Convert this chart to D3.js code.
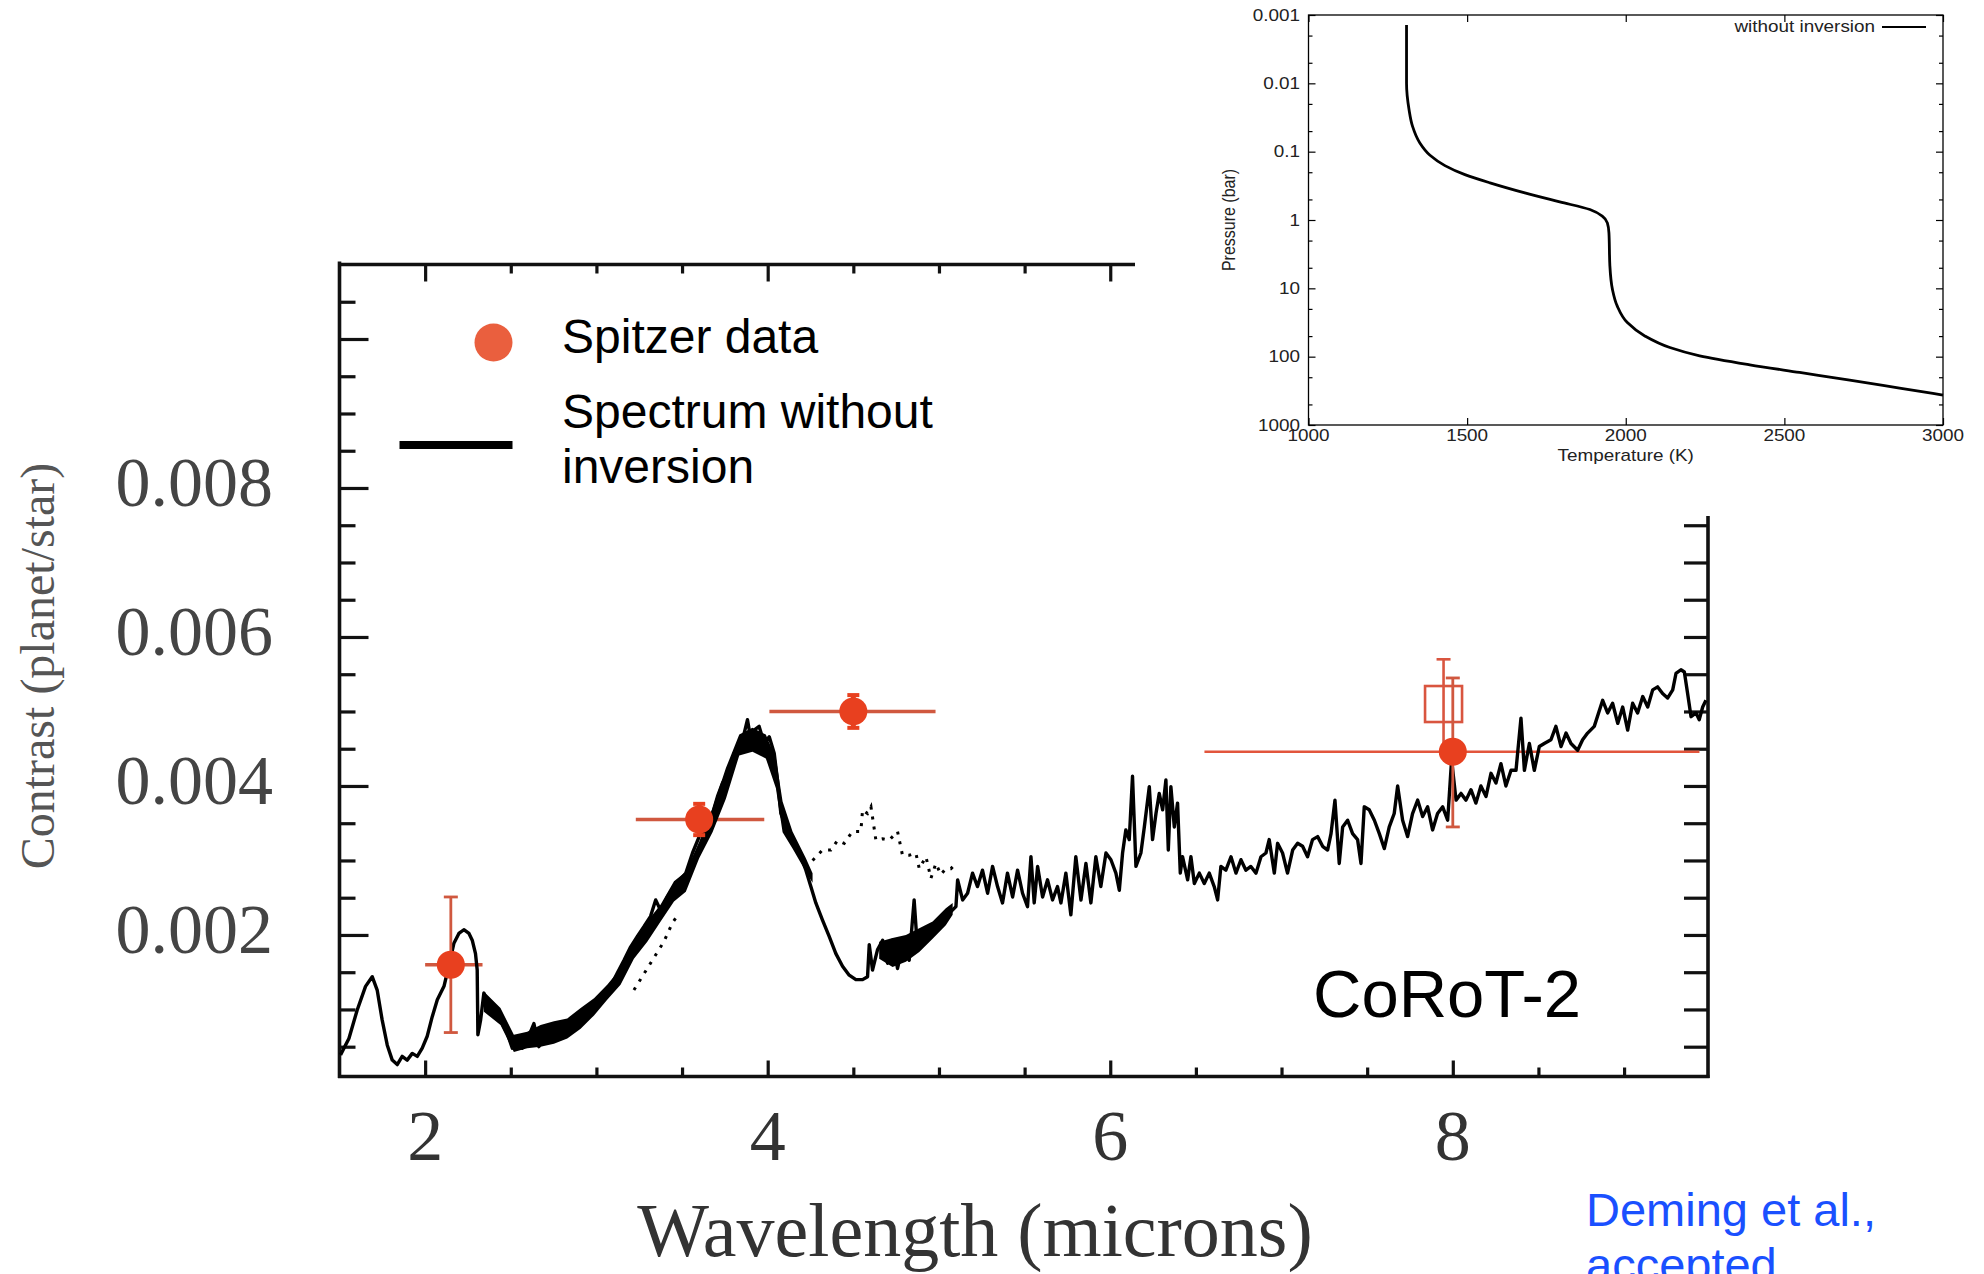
<!DOCTYPE html>
<html><head><meta charset="utf-8">
<script src="https://cdn.jsdelivr.net/npm/d3@7"></script>
<style>body{margin:0;background:#fff}</style>
</head><body>
<svg id="c" width="1984" height="1274"></svg>
<script>
// ---------------- DATA ----------------
// Model spectrum without inversion (wavelength in microns, contrast planet/star)
const specWl = [1.506,1.555,1.603,1.652,1.691,1.720,1.749,1.779,1.808,1.837,1.866,1.895,1.925,1.954,1.983,2.012,2.041,2.071,2.110,2.140,
2.168,2.197,2.226,2.256,2.275,2.294,2.304,2.308,2.324,2.343,2.363,2.392,2.421,2.450,2.479,2.509,2.538,2.567,2.596,2.635,
2.664,2.693,2.732,2.771,2.810,2.849,2.888,2.927,2.966,3.005,3.044,3.083,3.122,3.161,3.200,3.239,3.277,3.316,3.346,3.375,
3.414,3.453,3.492,3.522,3.561,3.600,3.639,3.678,3.707,3.736,3.775,3.804,3.834,3.863,3.882,3.902,3.921,3.950,3.980,4.009,
4.038,4.057,4.077,4.106,4.135,4.164,4.194,4.223,4.252,4.281,4.320,4.359,4.398,4.437,4.476,4.515,4.554,4.583,4.593,4.612,
4.641,4.671,4.700,4.729,4.758,4.787,4.826,4.855,4.875,4.904,4.943,4.982,5.021,5.060,5.099,5.109,5.138,5.167,5.196,5.225,
5.254,5.284,5.313,5.342,5.371,5.400,5.430,5.459,5.488,5.517,5.537,5.556,5.576,5.605,5.634,5.663,5.692,5.712,5.741,5.770,
5.799,5.829,5.858,5.887,5.916,5.945,5.975,6.004,6.033,6.053,6.072,6.091,6.111,6.130,6.150,6.179,6.199,6.228,6.247,6.267,
6.286,6.306,6.325,6.339,6.354,6.374,6.393,6.409,6.422,6.452,6.471,6.491,6.520,6.549,6.578,6.607,6.627,6.646,6.675,6.705,
6.734,6.763,6.792,6.821,6.851,6.880,6.909,6.928,6.958,6.977,7.006,7.035,7.065,7.094,7.123,7.152,7.181,7.211,7.240,7.269,
7.289,7.312,7.337,7.357,7.386,7.415,7.444,7.464,7.483,7.512,7.542,7.571,7.600,7.629,7.658,7.678,7.707,7.736,7.765,7.795,
7.824,7.853,7.882,7.911,7.941,7.970,7.993,8.019,8.048,8.077,8.106,8.135,8.164,8.194,8.223,8.252,8.281,8.310,8.340,8.369,
8.398,8.418,8.447,8.476,8.505,8.534,8.573,8.602,8.632,8.661,8.690,8.729,8.758,8.787,8.826,8.875,8.904,8.933,8.963,8.992,
9.021,9.050,9.079,9.109,9.138,9.167,9.196,9.225,9.254,9.284,9.303,9.332,9.352,9.371,9.391,9.420,9.439,9.459,9.478];
const specContrast = [0.00039,0.00061,0.00099,0.00131,0.00144,0.00126,0.00086,0.00052,0.00032,0.00026,0.00037,0.00032,0.00041,0.00037,0.00048,0.00064,0.00090,0.00113,0.00131,0.00160,
0.00189,0.00202,0.00207,0.00202,0.00193,0.00175,0.00153,0.00066,0.00086,0.00122,0.00108,0.00099,0.00095,0.00081,0.00068,0.00048,0.00052,0.00048,0.00059,0.00081,
0.00050,0.00061,0.00072,0.00077,0.00068,0.00072,0.00086,0.00097,0.00104,0.00113,0.00122,0.00131,0.00149,0.00166,0.00184,0.00198,0.00211,0.00225,0.00247,0.00233,
0.00251,0.00265,0.00275,0.00283,0.00310,0.00332,0.00345,0.00363,0.00386,0.00404,0.00417,0.00444,0.00453,0.00471,0.00489,0.00462,0.00475,0.00480,0.00457,0.00466,
0.00444,0.00408,0.00363,0.00345,0.00332,0.00319,0.00305,0.00287,0.00265,0.00243,0.00220,0.00198,0.00175,0.00158,0.00146,0.00140,0.00140,0.00144,0.00187,0.00153,
0.00180,0.00193,0.00162,0.00193,0.00155,0.00184,0.00166,0.00247,0.00180,0.00193,0.00202,0.00211,0.00220,0.00229,0.00238,0.00274,0.00247,0.00256,0.00283,0.00265,
0.00287,0.00256,0.00292,0.00265,0.00243,0.00283,0.00251,0.00287,0.00256,0.00238,0.00305,0.00243,0.00292,0.00251,0.00274,0.00247,0.00265,0.00243,0.00283,0.00227,
0.00305,0.00247,0.00296,0.00243,0.00305,0.00265,0.00310,0.00301,0.00283,0.00260,0.00310,0.00341,0.00328,0.00413,0.00292,0.00310,0.00345,0.00399,0.00328,0.00363,
0.00390,0.00368,0.00408,0.00314,0.00399,0.00345,0.00377,0.00283,0.00305,0.00274,0.00305,0.00269,0.00283,0.00269,0.00283,0.00265,0.00247,0.00292,0.00287,0.00305,
0.00283,0.00301,0.00287,0.00292,0.00283,0.00305,0.00310,0.00328,0.00283,0.00323,0.00310,0.00283,0.00314,0.00323,0.00319,0.00305,0.00328,0.00332,0.00319,0.00314,
0.00336,0.00381,0.00296,0.00345,0.00354,0.00336,0.00328,0.00296,0.00372,0.00368,0.00354,0.00336,0.00316,0.00345,0.00363,0.00400,0.00354,0.00332,0.00363,0.00381,
0.00359,0.00372,0.00341,0.00363,0.00372,0.00354,0.00435,0.00381,0.00390,0.00381,0.00395,0.00377,0.00400,0.00386,0.00417,0.00404,0.00430,0.00400,0.00421,0.00421,
0.00491,0.00421,0.00457,0.00421,0.00453,0.00457,0.00462,0.00480,0.00453,0.00471,0.00457,0.00448,0.00462,0.00471,0.00480,0.00515,0.00498,0.00511,0.00484,0.00506,
0.00475,0.00511,0.00498,0.00520,0.00506,0.00529,0.00533,0.00524,0.00518,0.00529,0.00551,0.00556,0.00553,0.00524,0.00493,0.00498,0.00489,0.00506,0.00515];

// Envelope of the densely sampled (thick) parts of the model spectrum
const band1Wl  = [2.343,2.440,2.518,2.596,2.674,2.752,2.830,2.908,2.986,3.063,3.141,3.219,3.297,3.375,3.453,3.522,3.600,3.678,3.756,3.834,3.911,3.989,4.048,4.087,4.145,4.223,4.262];
const band1Low = [0.00097,0.00079,0.00043,0.00048,0.00050,0.00054,0.00061,0.00074,0.00092,0.00113,0.00133,0.00168,0.00191,0.00218,0.00245,0.00258,0.00303,0.00338,0.00383,0.00441,0.00446,0.00437,0.00397,0.00338,0.00316,0.00285,0.00270];
const band1High= [0.00124,0.00102,0.00066,0.00070,0.00079,0.00084,0.00088,0.00102,0.00115,0.00133,0.00155,0.00191,0.00218,0.00241,0.00272,0.00285,0.00325,0.00370,0.00424,0.00469,0.00478,0.00469,0.00437,0.00379,0.00339,0.00303,0.00283];
const band2Wl  = [4.651,4.729,4.807,4.885,4.963,5.040,5.080];
const band2Low = [0.00168,0.00157,0.00164,0.00177,0.00195,0.00213,0.00227];
const band2High= [0.00191,0.00196,0.00200,0.00209,0.00218,0.00236,0.00243];

// Second (dotted) model where it departs from the solid one
const dotAWl = [3.219,3.394,3.443,3.483];
const dotAContrast = [0.00126,0.00191,0.00216,0.00229];
const dotBWl = [4.262,4.320,4.369,4.408,4.447,4.495,4.544,4.554,4.583,4.603,4.632,4.671,4.709,4.758,4.787,4.826,4.865,4.885,4.924,4.953,4.982,5.011,5.040,5.070,5.099];
const dotBContrast = [0.00300,0.00314,0.00314,0.00327,0.00323,0.00339,0.00339,0.00368,0.00363,0.00372,0.00327,0.00329,0.00327,0.00339,0.00307,0.00307,0.00310,0.00289,0.00305,0.00276,0.00296,0.00281,0.00289,0.00289,0.00296];

// Spitzer data (and ground-based 2.15 micron point)
const ptWl      = [2.15, 3.6, 4.5, 8.0];
const ptContrast= [0.0016, 0.00355, 0.0050, 0.00446];
const ptErrLow  = [0.00069, 0.00334, 0.00478, 0.00345];
const ptErrHigh = [0.00251, 0.00376, 0.00522, 0.00545];
const ptWlMin   = [2.00, 3.23, 4.01, 6.55];
const ptWlMax   = [2.335, 3.98, 4.98, 9.44];
// Open square at 8 microns
const sqWl = [7.946], sqContrast = [0.0051], sqErrLow = [0.0045], sqErrHigh = [0.0057];

// Axis ticks
const xTickLabels = [2, 4, 6, 8];
const yTickLabels = [0.002, 0.004, 0.006, 0.008];

// Inset: temperature-pressure profile without inversion
const insetT = [1309,1309,1309,1317,1328,1351,1383,1430,1493,1572,1682,1792,1887,1926,1942,1947,1950,1958,1973,2005,2060,2139,2233,2391,2548,2706,2863,3000];
const insetP = [0.0014,0.005,0.01,0.0244,0.0427,0.0746,0.113,0.160,0.217,0.286,0.401,0.543,0.703,0.879,1.099,1.54,4.72,10.35,18.1,31.7,49.7,73.5,97.3,131.5,170.2,220.3,288.4,364.8];
const insetTTicks = [1000,1500,2000,2500,3000];
const insetPTicks = [0.001,0.01,0.1,1,10,100,1000];
const insetPTickLabels = ["0.001","0.01","0.1","1","10","100","1000"];

// ---------------- DRAW ----------------
const svg = d3.select("#c");
svg.append("rect").attr("width",1984).attr("height",1274).attr("fill","#fff");

const x = d3.scaleLinear().domain([1.5, 9.49]).range([339.5, 1708]);
const y = d3.scaleLinear().domain([0.0001, 0.011]).range([1076.5, 264.5]);
const X0 = x(1.5), X1 = x(9.49), Y0 = y(0.0001), Y1 = y(0.011);
const topEnd = 1135, rightStart = 516;

const serif = "'Liberation Serif','Times New Roman',serif";
const sans = "'Liberation Sans',Arial,Helvetica,sans-serif";

function styleTicks(g, isMajor, majLen, minLen, dir) {
  g.select(".domain").remove();
  g.selectAll(".tick text").remove();
  g.selectAll(".tick line").attr("stroke","#111").attr("stroke-width",3.2)
   .each(function(d){
     const L = isMajor(d) ? majLen : minLen;
     const s = d3.select(this);
     if (dir==="v") s.attr("y2", L); else s.attr("x2", L);
   });
}
const isEven = d => Math.abs(d/2 - Math.round(d/2)) < 1e-6;
const isY2 = d => Math.abs(d/0.002 - Math.round(d/0.002)) < 1e-6;

// bottom ticks
svg.append("g").attr("transform",`translate(0,${Y0})`)
  .call(d3.axisBottom(x).tickValues(d3.range(2, 9.01, 0.5)))
  .call(g=>styleTicks(g, isEven, -16, -9, "v"));
// top ticks
svg.append("g").attr("transform",`translate(0,${Y1})`)
  .call(d3.axisTop(x).tickValues(d3.range(2, 6.01, 0.5)))
  .call(g=>styleTicks(g, isEven, 17, 9, "v"));
// left ticks
svg.append("g").attr("transform",`translate(${X0},0)`)
  .call(d3.axisLeft(y).tickValues(d3.range(1,22).map(k=>k*0.0005)))
  .call(g=>styleTicks(g, isY2, 29, 16, "h"));
// right ticks
svg.append("g").attr("transform",`translate(${X1},0)`)
  .call(d3.axisRight(y).tickValues(d3.range(1,16).map(k=>k*0.0005)))
  .call(g=>styleTicks(g, ()=>false, -24, -24, "h"));

// frame
const frame = svg.append("g").attr("stroke","#111").attr("stroke-width",3.6).attr("fill","none");
frame.append("line").attr("x1",X0).attr("x2",X0).attr("y1",Y1-3).attr("y2",Y0+1.5);
frame.append("line").attr("x1",X0-1.5).attr("x2",X1+1.5).attr("y1",Y0).attr("y2",Y0);
frame.append("line").attr("x1",X0-1.5).attr("x2",topEnd).attr("y1",Y1).attr("y2",Y1);
frame.append("line").attr("x1",X1).attr("x2",X1).attr("y1",rightStart).attr("y2",Y0+1.5);

// tick labels
svg.append("g").selectAll("text").data(xTickLabels).join("text")
  .attr("x", d=>x(d)).attr("y", 1160).attr("text-anchor","middle")
  .attr("font-family",serif).attr("font-size",72).attr("fill","#333").text(d=>d);
svg.append("g").selectAll("text").data(yTickLabels).join("text")
  .attr("x", 273).attr("y", d=>y(d)+18.5).attr("text-anchor","end")
  .attr("font-family",serif).attr("font-size",70).attr("fill","#444").text(d=>d3.format(".3f")(d));

// axis titles
svg.append("text").attr("x",975).attr("y",1256).attr("text-anchor","middle")
  .attr("font-family",serif).attr("font-size",76).attr("fill","#333").text("Wavelength (microns)");
svg.append("text").attr("transform","translate(54,666) rotate(-90)").attr("text-anchor","middle")
  .attr("font-family",serif).attr("font-size",48).attr("fill","#555").text("Contrast (planet/star)");

// error bars (horizontal bandwidths)
const red = "#e8401f", barRed = "#d0583f";
const eb = svg.append("g");
ptWl.forEach((w,i)=>{
  eb.append("line").attr("x1",x(ptWlMin[i])).attr("x2",x(ptWlMax[i]))
    .attr("y1",y(ptContrast[i])).attr("y2",y(ptContrast[i]))
    .attr("stroke", i===3 ? "#e2553c" : barRed).attr("stroke-width", i===3 ? 2.6 : 3.4);
});
// open square and its error bar
sqWl.forEach((w,i)=>{
  const cx=x(w), cy=y(sqContrast[i]);
  eb.append("line").attr("x1",cx).attr("x2",cx).attr("y1",y(sqErrHigh[i])).attr("y2",y(sqErrLow[i]))
    .attr("stroke","#d9553f").attr("stroke-width",2.6);
  eb.append("line").attr("x1",cx-7).attr("x2",cx+7).attr("y1",y(sqErrHigh[i])).attr("y2",y(sqErrHigh[i]))
    .attr("stroke","#d9553f").attr("stroke-width",2.6);
  eb.append("rect").attr("x",cx-18.5).attr("y",cy-18).attr("width",37).attr("height",36)
    .attr("fill","none").attr("stroke","#d9553f").attr("stroke-width",2.6);
});

// model spectrum: thick envelope bands
const area = d3.area().x(d=>x(d[0])).y0(d=>y(d[1])).y1(d=>y(d[2]));
svg.append("path").datum(band1Wl.map((w,i)=>[w,band1Low[i],band1High[i]])).attr("d",area).attr("fill","#000");
svg.append("path").datum(band2Wl.map((w,i)=>[w,band2Low[i],band2High[i]])).attr("d",area).attr("fill","#000");

const line = d3.line().x(d=>x(d[0])).y(d=>y(d[1]));
svg.append("path").datum(specWl.map((w,i)=>[w,specContrast[i]]))
  .attr("d",line).attr("fill","none").attr("stroke","#000").attr("stroke-width",3.4).attr("stroke-linejoin","round");

// dotted model
[[dotAWl,dotAContrast],[dotBWl,dotBContrast]].forEach(([w,c])=>{
  svg.append("path").datum(w.map((v,i)=>[v,c[i]])).attr("d",line)
    .attr("fill","none").attr("stroke","#000").attr("stroke-width",3).attr("stroke-dasharray","3,7");
});

// vertical error bars + markers
const mk = svg.append("g");
ptWl.forEach((w,i)=>{
  const cx=x(w);
  const thin = (i===0 || i===3);
  mk.append("line").attr("x1",cx).attr("x2",cx).attr("y1",y(ptErrHigh[i])).attr("y2",y(ptErrLow[i]))
    .attr("stroke", thin ? barRed : red).attr("stroke-width", thin ? 2.8 : 5);
  [ptErrHigh[i], ptErrLow[i]].forEach(v=>{
    mk.append("line").attr("x1",cx-(thin?7:6)).attr("x2",cx+(thin?7:6)).attr("y1",y(v)).attr("y2",y(v))
      .attr("stroke", thin ? barRed : red).attr("stroke-width", thin ? 2.8 : 4);
  });
});
mk.selectAll("circle").data(ptWl).join("circle")
  .attr("cx",d=>x(d)).attr("cy",(d,i)=>y(ptContrast[i])).attr("r",14).attr("fill",red);

// legend
svg.append("circle").attr("cx",493.5).attr("cy",342.5).attr("r",19).attr("fill","#ea5f3e");
svg.append("line").attr("x1",399.5).attr("x2",512.5).attr("y1",445).attr("y2",445).attr("stroke","#000").attr("stroke-width",8);
const lg = svg.append("g").attr("font-family",sans).attr("font-size",48).attr("fill","#000");
lg.append("text").attr("x",562).attr("y",353).text("Spitzer data");
lg.append("text").attr("x",562).attr("y",428).text("Spectrum without");
lg.append("text").attr("x",562).attr("y",483).text("inversion");

// annotations
svg.append("text").attr("x",1313).attr("y",1017).attr("font-family",sans).attr("font-size",67).attr("fill","#000").text("CoRoT-2");
const dm = svg.append("g").attr("font-family",sans).attr("font-size",47).attr("fill","#1a50ff");
dm.append("text").attr("x",1586).attr("y",1226).text("Deming et al.,");
dm.append("text").attr("x",1586).attr("y",1281).text("accepted");

// ---------------- INSET ----------------
const ix = d3.scaleLinear().domain([1000,3000]).range([1308.5,1943]);
const iy = d3.scaleLog().domain([0.001,1000]).range([15,425]);
const IX0=ix(1000), IX1=ix(3000), IY0=iy(1000), IY1=iy(0.001);
const inset = svg.append("g");
inset.append("rect").attr("x",1140).attr("y",0).attr("width",844).attr("height",514).attr("fill","#fff");

const minorP = [];
insetPTicks.slice(0,-1).forEach(p=>{ minorP.push(p*2, p*5); });
function inTicks(g, len){ g.select(".domain").remove(); g.selectAll(".tick text").remove();
  g.selectAll(".tick line").attr("stroke","#000").attr("stroke-width",1.2).attr(len[0],len[1]); }
inset.append("g").attr("transform",`translate(0,${IY0})`).call(d3.axisBottom(ix).tickValues(insetTTicks)).call(g=>inTicks(g,["y2",-7]));
inset.append("g").attr("transform",`translate(0,${IY1})`).call(d3.axisTop(ix).tickValues(insetTTicks)).call(g=>inTicks(g,["y2",7]));
inset.append("g").attr("transform",`translate(${IX0},0)`).call(d3.axisLeft(iy).tickValues(insetPTicks)).call(g=>inTicks(g,["x2",7]));
inset.append("g").attr("transform",`translate(${IX1},0)`).call(d3.axisRight(iy).tickValues(insetPTicks)).call(g=>inTicks(g,["x2",-7]));
inset.append("g").attr("transform",`translate(${IX0},0)`).call(d3.axisLeft(iy).tickValues(minorP)).call(g=>inTicks(g,["x2",4]));
inset.append("g").attr("transform",`translate(${IX1},0)`).call(d3.axisRight(iy).tickValues(minorP)).call(g=>inTicks(g,["x2",-4]));
inset.append("rect").attr("x",IX0).attr("y",IY1).attr("width",IX1-IX0).attr("height",IY0-IY1)
  .attr("fill","none").attr("stroke","#000").attr("stroke-width",1.3);

const sx = 1.18;
const itxt = inset.append("g").attr("font-family",sans).attr("font-size",16).attr("fill","#222");
insetTTicks.forEach(t=>{
  itxt.append("text").attr("transform",`translate(${ix(t)},441) scale(${sx},1)`).attr("text-anchor","middle").text(t);
});
insetPTicks.forEach((p,i)=>{
  itxt.append("text").attr("transform",`translate(1300,${iy(p)+5.5}) scale(${sx},1)`).attr("text-anchor","end").text(insetPTickLabels[i]);
});
itxt.append("text").attr("transform",`translate(${(IX0+IX1)/2},461) scale(${sx},1)`).attr("text-anchor","middle").text("Temperature (K)");
itxt.append("text").attr("transform",`translate(1235,${(IY0+IY1)/2}) rotate(-90) scale(1,${sx})`).attr("text-anchor","middle").text("Pressure (bar)");
itxt.append("text").attr("transform",`translate(1875,32) scale(${sx},1)`).attr("text-anchor","end").text("without inversion");
inset.append("line").attr("x1",1882).attr("x2",1926).attr("y1",27).attr("y2",27).attr("stroke","#000").attr("stroke-width",2);

inset.append("path").datum(insetT.map((t,i)=>[t,insetP[i]]))
  .attr("d", d3.line().curve(d3.curveMonotoneY).x(d=>ix(d[0])).y(d=>iy(d[1])))
  .attr("fill","none").attr("stroke","#000").attr("stroke-width",2.8);
</script>
</body></html>
